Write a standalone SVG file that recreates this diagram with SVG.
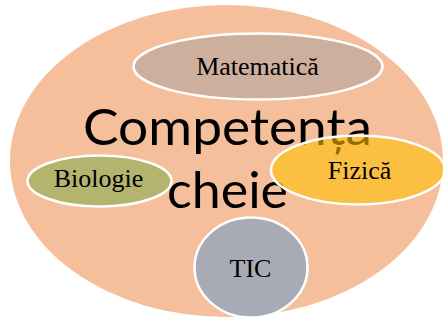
<svg xmlns="http://www.w3.org/2000/svg" width="443" height="321" viewBox="0 0 443 321">
<style>
.node{stroke:#FFFFFF;stroke-width:2.5}
.lbl{font-family:"Liberation Serif","Times New Roman",serif;font-size:26px;fill:#000;text-anchor:middle}
.big{font-family:Lato,"Open Sans",sans-serif;font-size:51px;fill:#000;text-anchor:middle}
</style>
<rect width="443" height="321" fill="#FFFFFF"/>
<g id="competenta-cheie">
<ellipse cx="226.5" cy="161" rx="216.5" ry="156" fill="#F5BF9B"/>
<text class="big" x="227.5" y="145" textLength="289" lengthAdjust="spacingAndGlyphs">Competența</text>
<text class="big" x="227.5" y="208" textLength="121" lengthAdjust="spacingAndGlyphs">cheie</text>
</g>
<g id="connectors"></g>
<g id="matematica">
<ellipse class="node" cx="258" cy="66.5" rx="124.5" ry="33" fill="#CDAF9D"/>
<text class="lbl" x="257.5" y="75">Matematică</text>
</g>
<g id="biologie">
<ellipse class="node" cx="99.5" cy="181" rx="72" ry="25.5" fill="#B3B56F"/>
<text class="lbl" x="98.5" y="187">Biologie</text>
</g>
<g id="fizica">
<ellipse class="node" cx="358" cy="170" rx="87" ry="34.5" fill="#FFC000" fill-opacity="0.58"/>
<text class="lbl" x="359.5" y="179">Fizică</text>
</g>
<g id="tic">
<ellipse class="node" cx="251" cy="267.5" rx="56.5" ry="50" fill="#A8ABB5"/>
<text class="lbl" x="250.5" y="277">TIC</text>
</g>
</svg>
